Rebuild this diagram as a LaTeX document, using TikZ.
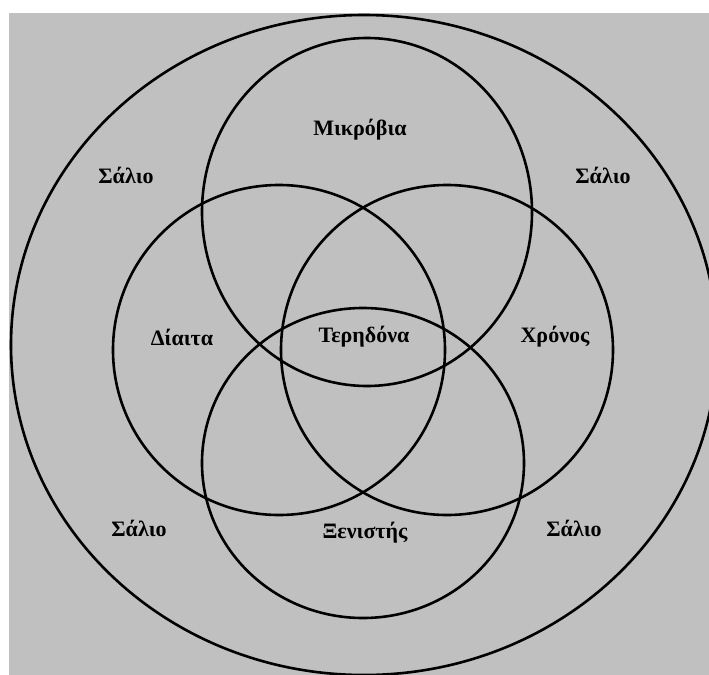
\documentclass[tikz,border=0pt]{standalone}
\usepackage{fontspec}
\setmainfont{Liberation Serif}
\begin{document}
\begin{tikzpicture}[x=0.5pt,y=-0.5pt,
  ring/.style={draw=black,line width=1.3pt},
  lbl/.style={font=\fontsize{11}{13}\selectfont\bfseries,inner sep=0pt}]
\useasboundingbox (0,0) rectangle (709,675);
\clip (0,0) rectangle (709,675);
\fill[white] (0,0) rectangle (709,675);
\fill[fill={rgb,255:red,192;green,192;blue,192}] (9,13) rectangle (709,675);
\draw[ring] (364,345) ellipse [x radius=353, y radius=330];
\draw[ring] (367,212) ellipse [x radius=165, y radius=174];
\draw[ring] (279,350) ellipse [x radius=166, y radius=165];
\draw[ring] (447,350) ellipse [x radius=166, y radius=165];
\draw[ring] (363,463) ellipse [x radius=161, y radius=155];
\node[lbl] (mikro) at (360,130) {Μικρόβια};
\node[lbl] (s1) at (126,175) {Σάλιο};
\node[lbl] (s2) at (603,175) {Σάλιο};
\node[lbl] (diaita) at (182,337) {Δίαιτα};
\node[lbl] (ter) at (364,337) {Τερηδόνα};
\node[lbl] (xronos) at (555,337) {Χρόνος};
\node[lbl] (s3) at (139,528) {Σάλιο};
\node[lbl] (xen) at (365,533) {Ξενιστής};
\node[lbl] (s4) at (574,528) {Σάλιο};
\end{tikzpicture}
\end{document}
